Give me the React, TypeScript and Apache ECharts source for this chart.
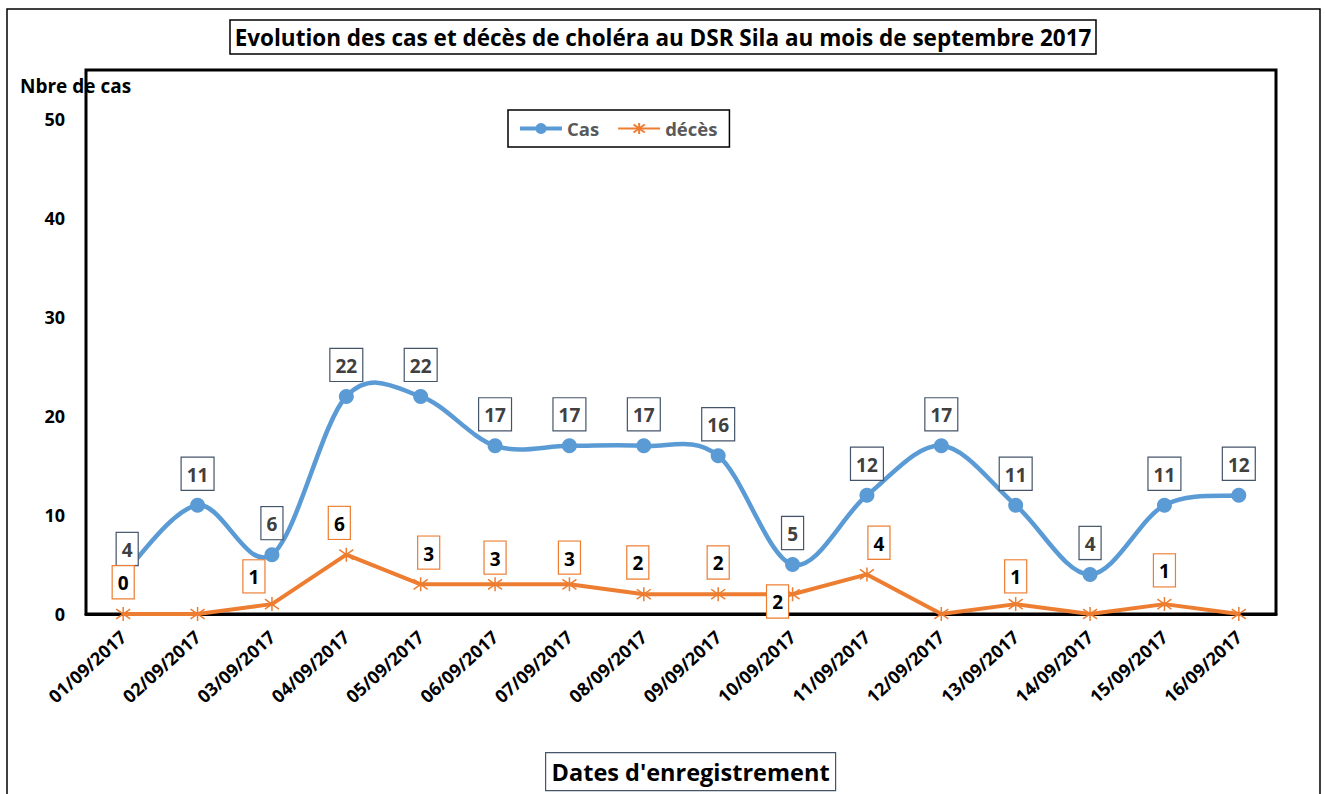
import React, { useEffect, useRef } from "react";
import * as echarts from "echarts";

const categories = [
  "01/09/2017", "02/09/2017", "03/09/2017", "04/09/2017", "05/09/2017", "06/09/2017",
  "07/09/2017", "08/09/2017", "09/09/2017", "10/09/2017", "11/09/2017", "12/09/2017",
  "13/09/2017", "14/09/2017", "15/09/2017", "16/09/2017",
];
const casValues = [4, 11, 6, 22, 22, 17, 17, 17, 16, 5, 12, 17, 11, 4, 11, 12];
const decesValues = [0, 0, 1, 6, 3, 3, 3, 2, 2, 2, 4, 0, 1, 0, 1, 0];
const yMin = 0;
const yMaxLabel = 50;
const yInterval = 10;

const titleText = "Evolution des cas et décès de choléra au DSR Sila au mois de septembre 2017";
const yName = "Nbre de cas";
const xName = "Dates d'enregistrement";

const FONT = "Open Sans";
const BLUE = "#5B9BD5";
const ORANGE = "#ED7D31";
const STAR = "path://M10,0L10,20M2.9,2.9L17.1,17.1M2.9,17.1L17.1,2.9";

// label offsets (layout only); null = label hidden
const casOffsets: Record<number, [number, number]> = { 0: [4, 6] };
const decesOffsets: (null | [number, number])[] = [
  [0, 0], null, [-18, 4], [-7, 0], [8, 0], [0, 5], [0, 5], [-6, 0], [0, 0],
  [-15, 39], [12, 0], null, [0, 4], null, [0, -2], null,
];

export default function App() {
  const ref = useRef<HTMLDivElement>(null);
  useEffect(() => {
    if (!ref.current) return;
    const chart = echarts.init(ref.current, null, { renderer: "svg" });
    const labelBase = {
      show: true,
      position: "top",
      distance: 8,
      fontFamily: FONT,
      fontWeight: "bold",
      fontSize: 19,
      lineHeight: 22,
      backgroundColor: "#fff",
      borderWidth: 1.2,
      padding: [6, 5, 4, 5],
    };
    const n = casValues.length;
    const renderCurve = (params: any, api: any) => {
      const i = params.dataIndex;
      if (i >= n - 1) return null;
      const pt = (k: number) => {
        const kk = Math.max(0, Math.min(n - 1, k));
        return api.coord([kk, casValues[kk]]);
      };
      const p0 = pt(i - 1);
      const p1 = pt(i);
      const p2 = pt(i + 1);
      const p3 = pt(i + 2);
      return {
        type: "bezierCurve",
        shape: {
          x1: p1[0],
          y1: p1[1],
          cpx1: p1[0] + (p2[0] - p0[0]) / 6,
          cpy1: p1[1] + (p2[1] - p0[1]) / 6,
          cpx2: p2[0] - (p3[0] - p1[0]) / 6,
          cpy2: p2[1] - (p3[1] - p1[1]) / 6,
          x2: p2[0],
          y2: p2[1],
        },
        style: { stroke: BLUE, lineWidth: 4.5, fill: null, lineCap: "round" },
      };
    };
    chart.setOption({
      animation: false,
      backgroundColor: "#fff",
      textStyle: { fontFamily: FONT },
      title: {
        text: titleText,
        left: "center",
        top: 20,
        padding: [4, 5, 3, 5],
        borderColor: "#000",
        borderWidth: 1.5,
        textStyle: {
          fontFamily: FONT,
          fontWeight: "bold",
          fontSize: 22.5,
          lineHeight: 27,
          color: "#000",
        },
      },
      legend: {
        left: 508,
        top: 110,
        padding: [9, 12, 9, 10],
        borderColor: "#000",
        borderWidth: 1.5,
        itemWidth: 42,
        itemHeight: 14,
        itemGap: 18,
        textStyle: { fontFamily: FONT, fontWeight: "bold", fontSize: 18.5, color: "#595959" },
        data: [
          { name: "Cas", lineStyle: { color: BLUE, width: 4, opacity: 1 } },
          { name: "décès" },
        ],
      },
      grid: {
        left: 86,
        right: 50,
        top: 70,
        bottom: 180,
        show: true,
        borderColor: "#000",
        borderWidth: 3,
        containLabel: false,
        outerBoundsMode: "none",
      },
      xAxis: {
        type: "category",
        data: categories,
        boundaryGap: true,
        axisLine: { show: true, lineStyle: { color: "#000", width: 3 } },
        axisTick: { show: false },
        axisLabel: {
          rotate: 42,
          margin: 20,
          interval: 0,
          color: "#000",
          fontFamily: FONT,
          fontWeight: "bold",
          fontSize: 18,
        },
      },
      yAxis: {
        type: "value",
        min: yMin,
        max: 55,
        interval: yInterval,
        splitLine: { show: false },
        axisLine: { show: false },
        axisTick: { show: false },
        axisLabel: {
          margin: 21,
          color: "#000",
          fontFamily: FONT,
          fontWeight: "bold",
          fontSize: 18,
          formatter: (v: number) => (v > yMaxLabel ? "" : String(v)),
        },
      },
      graphic: [
        {
          type: "rect",
          shape: { x: 7, y: 9, width: 1313, height: 800 },
          style: { fill: "none", stroke: "#000", lineWidth: 1.5 },
          silent: true,
          z: -10,
        },
        {
          type: "text",
          left: 20,
          top: 76,
          style: { text: yName, font: `bold 19px ${FONT}`, fill: "#000" },
        },
        {
          type: "group",
          left: 545,
          top: 752,
          children: [
            {
              type: "rect",
              shape: { x: 0, y: 0, width: 290, height: 38 },
              style: { fill: "#fff", stroke: "#44546A", lineWidth: 1.2 },
            },
            {
              type: "text",
              x: 145,
              y: 19,
              style: {
                text: xName,
                font: `bold 23.5px ${FONT}`,
                fill: "#000",
                align: "center",
                verticalAlign: "middle",
              },
            },
          ],
        },
      ],
      series: [
        {
          name: "casCurve",
          type: "custom",
          renderItem: renderCurve,
          data: casValues.map((v, i) => [i, v]),
          encode: { x: 0, y: 1 },
          silent: true,
          z: 1,
        },
        {
          name: "Cas",
          type: "line",
          data: casValues.map((v, i) => ({
            value: v,
            label: casOffsets[i] ? { offset: casOffsets[i] } : undefined,
          })),
          symbol: "circle",
          symbolSize: 15,
          lineStyle: { color: BLUE, width: 4, opacity: 0 },
          itemStyle: { color: BLUE, borderWidth: 0 },
          label: { ...labelBase, color: "#404040", borderColor: "#44546A" },
          z: 2,
        },
        {
          name: "décès",
          type: "line",
          data: decesValues.map((v, i) => {
            const o = decesOffsets[i];
            return {
              value: v,
              label: o ? { show: true, offset: o } : { show: false },
            };
          }),
          symbol: STAR,
          symbolSize: 14,
          lineStyle: { color: ORANGE, width: 4 },
          itemStyle: { color: ORANGE, borderColor: ORANGE, borderWidth: 1.5 },
          label: { ...labelBase, color: "#000", borderColor: ORANGE },
          z: 3,
        },
      ],
    });
    return () => chart.dispose();
  }, []);
  return (
    <div
      ref={ref}
      style={{ position: "fixed", left: 0, top: 0, width: 1326, height: 794 }}
    />
  );
}
